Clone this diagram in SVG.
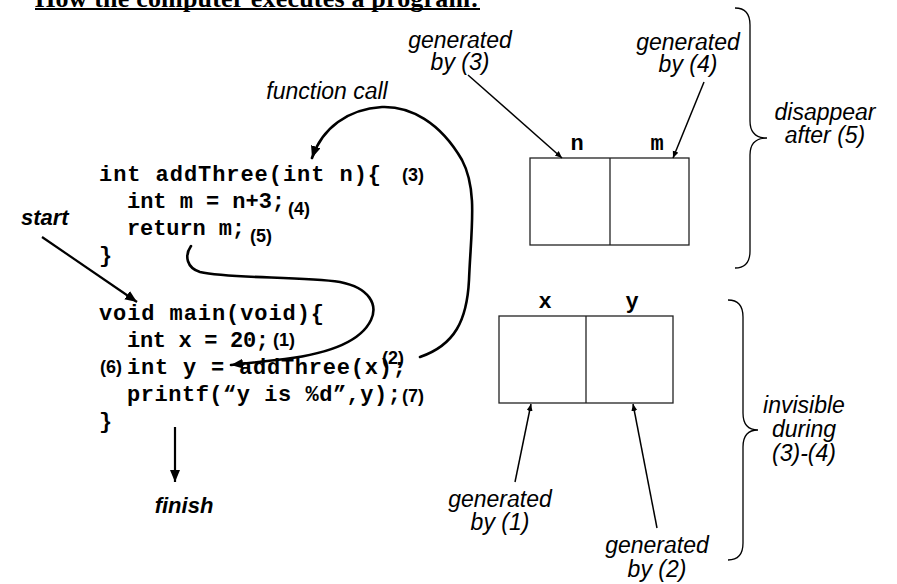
<svg xmlns="http://www.w3.org/2000/svg" width="897" height="584" viewBox="0 0 897 584">
<style>
.title{font-family:"Liberation Serif",serif;font-weight:bold;font-size:26px;fill:#000}
.code{font-family:"Liberation Mono",monospace;font-weight:bold;font-size:22px;fill:#000}
.lbl{font-family:"Liberation Mono",monospace;font-weight:bold;font-size:22px;fill:#000;text-anchor:middle}
.step{font-family:"Liberation Sans",Arial,sans-serif;font-weight:bold;font-size:18px;fill:#000}
.note{font-family:"Liberation Sans",Arial,sans-serif;font-style:italic;font-size:23px;fill:#000;text-anchor:middle}
.bold-note{font-family:"Liberation Sans",Arial,sans-serif;font-style:italic;font-weight:bold;font-size:22px;fill:#000}
.box{fill:#fff;stroke:#222;stroke-width:1.3}
.thick{fill:none;stroke:#000;stroke-width:2.6;stroke-linecap:round}
.thin{fill:none;stroke:#000;stroke-width:1.5}
.med{fill:none;stroke:#000;stroke-width:2.2}
.brace{fill:none;stroke:#000;stroke-width:1.3}
</style>
<defs>
<marker id="bigHead" markerUnits="userSpaceOnUse" markerWidth="14" markerHeight="12" refX="12" refY="5" orient="auto">
<path d="M0,0 L12,5 L0,10 Z" fill="#000"/>
</marker>
<marker id="smallHead" markerUnits="userSpaceOnUse" markerWidth="9" markerHeight="8" refX="7" refY="3" orient="auto">
<path d="M0,0 L7,3 L0,6 Z" fill="#000"/>
</marker>
</defs>

<g id="title">
<text class="title" x="35" y="7" textLength="444">How the computer executes a program:</text>
<line x1="35" y1="9" x2="480" y2="9" stroke="#000" stroke-width="2"/>
</g>

<g id="addThree-code">
<text class="code" x="99" y="181" textLength="282">int addThree(int n){</text>
<text class="code" x="127" y="208" textLength="158">int m = n+3;</text>
<text class="code" x="127" y="235" textLength="118">return m;</text>
<text class="code" x="99" y="262">}</text>
<text class="step" x="402" y="181">(3)</text>
<text class="step" x="288" y="215">(4)</text>
<text class="step" x="250" y="242">(5)</text>
</g>

<g id="main-code">
<text class="code" x="99" y="320" textLength="225">void main(void){</text>
<text class="code" x="127" y="347" textLength="142">int x = 20;</text>
<text class="code" x="127" y="374" textLength="279">int y = addThree(x);</text>
<text class="code" x="127" y="401" textLength="274">printf(“y is %d”,y);</text>
<text class="code" x="99" y="428">}</text>
<text class="step" x="273" y="346">(1)</text>
<text class="step" x="100" y="373">(6)</text>
<text class="step" x="382" y="364">(2)</text>
<text class="step" x="402" y="402">(7)</text>
</g>

<g id="start-label"><text class="bold-note" x="21" y="225">start</text></g>
<g id="finish-label"><text class="bold-note" x="184" y="513" text-anchor="middle">finish</text></g>
<g id="function-call-label"><text class="note" x="327" y="99">function call</text></g>

<g id="box-nm">
<rect class="box" x="530" y="158" width="159" height="87"/>
<line class="box" x1="610" y1="158" x2="610" y2="245"/>
<text class="lbl" x="577" y="150">n</text>
<text class="lbl" x="657" y="150">m</text>
</g>

<g id="box-xy">
<rect class="box" x="499" y="316" width="174" height="87"/>
<line class="box" x1="586" y1="316" x2="586" y2="403"/>
<text class="lbl" x="545" y="308">x</text>
<text class="lbl" x="632" y="308">y</text>
</g>

<g id="note-gen3"><text class="note" x="460" y="48">generated</text><text class="note" x="460" y="70">by (3)</text></g>
<g id="note-gen4"><text class="note" x="688" y="50">generated</text><text class="note" x="688" y="72">by (4)</text></g>
<g id="note-disappear"><text class="note" x="825" y="120">disappear</text><text class="note" x="825" y="143">after (5)</text></g>
<g id="note-gen1"><text class="note" x="500" y="507">generated</text><text class="note" x="500" y="530">by (1)</text></g>
<g id="note-gen2"><text class="note" x="657" y="553">generated</text><text class="note" x="657" y="577">by (2)</text></g>
<g id="note-invisible"><text class="note" x="804" y="413">invisible</text><text class="note" x="804" y="437">during</text><text class="note" x="804" y="461">(3)-(4)</text></g>

<g id="braces">
<path class="brace" d="M 735 8 Q 750 8 750 25 L 750 121 Q 750 138 767 138 Q 750 138 750 155 L 750 251 Q 750 268 735 268"/>
<path class="brace" d="M 728 300 Q 743 300 743 317 L 743 413 Q 743 430 758 430 Q 743 430 743 447 L 743 543 Q 743 560 728 560"/>
</g>

<g id="connectors">
<path class="thick" d="M 420 357 C 455 345, 467 320, 469 280 C 471 230, 478 190, 462 160 C 440 122, 410 106, 382 107 C 348 109, 322 128, 312 158" marker-end="url(#bigHead)"/>
<path class="thick" d="M 191 246 C 184 256, 187 268, 200 272 C 230 279, 300 276, 340 282 C 370 288, 378 305, 371 320 C 360 343, 325 354, 285 359 L 231 365" marker-end="url(#bigHead)"/>
<line class="med" x1="42" y1="237" x2="137" y2="302" marker-end="url(#bigHead)"/>
<line class="med" x1="175" y1="427" x2="175" y2="482" marker-end="url(#bigHead)"/>
<line class="thin" x1="468" y1="75" x2="562" y2="158" marker-end="url(#smallHead)"/>
<line class="thin" x1="704" y1="82" x2="673" y2="158" marker-end="url(#smallHead)"/>
<line class="thin" x1="515" y1="482" x2="531" y2="404" marker-end="url(#smallHead)"/>
<line class="thin" x1="657" y1="528" x2="633" y2="404" marker-end="url(#smallHead)"/>
</g>
</svg>
